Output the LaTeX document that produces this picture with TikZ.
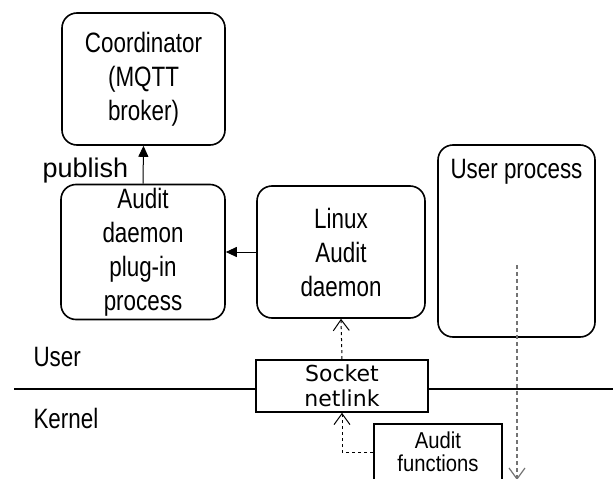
\documentclass[tikz,border=0pt]{standalone}
\usepackage{fontspec}
\setmainfont{Liberation Sans}[FakeStretch=0.8]
\newfontfamily\plainfont{Liberation Sans}
\newfontfamily\narrowfont{Liberation Sans}[FakeStretch=0.88]
\newfontfamily\sockfont{DejaVu Sans}
\usetikzlibrary{arrows.meta}

\begin{document}
\begin{tikzpicture}[x=1pt, y=-1pt,
    procbox/.style={draw, line width=1.6pt, rounded corners=15pt, align=center,
        inner sep=0pt, font=\fontsize{28pt}{34pt}\selectfont},
    kernbox/.style={draw, line width=1.6pt, fill=white, align=center, inner sep=0pt},
    sidelabel/.style={anchor=west, font=\fontsize{28pt}{30pt}\selectfont},
    solidflow/.style={line width=1pt, -{Triangle[length=11pt, width=10pt]}},
    eventflow/.style={line width=1pt, dashed, -{Straight Barb[length=11pt, width=16pt]}}]
    \useasboundingbox (0,0) rectangle (613,479);

    % User / Kernel border
    \draw[line width=1.3pt] (14,389) -- (613,389);

    % The processes
    \node[procbox, minimum width=163pt, minimum height=132pt] (coord) at (143.5,79) {Coordinator\\(MQTT\\broker)};
    \node[procbox, minimum width=164pt, minimum height=135pt] (plugin) at (143,252) {Audit\\daemon\\plug-in\\process};
    \node[procbox, minimum width=168pt, minimum height=132pt] (linux) at (341,252) {Linux\\Audit\\daemon};
    \node[procbox, minimum width=157pt, minimum height=192pt,
        label={[anchor=north, yshift=-12pt, font=\fontsize{28pt}{30pt}\selectfont]north:User process}] (userproc) at (516.5,241) {};

    % The kernel side
    \node[kernbox, minimum width=172pt, minimum height=52pt,
        font=\sockfont\fontsize{22pt}{25pt}\selectfont] (socket) at (342,386) {Socket\\netlink};
    \node[kernbox, minimum width=128pt, minimum height=56pt,
        font=\narrowfont\fontsize{23pt}{23pt}\selectfont] (auditfn) at (438,452) {Audit\\functions};

    % Labels
    \node[anchor=base west, font=\plainfont\fontsize{27pt}{30pt}\selectfont] (publish) at (39,177) {publish};
    \node[sidelabel] (user) at (30,357) {User};
    \node[sidelabel] (kernel) at (30,418) {Kernel};

    % The flows
    \draw[solidflow] (plugin.north) -- (coord.south);
    \draw[solidflow] (linux.west) -- (plugin.east);
    \draw[eventflow] (socket.north) -- (linux.south);
    \draw[eventflow] (auditfn.west) -| (socket.south);
    \coordinate (flowstart) at (517,265);
    \coordinate (flowend) at (517,480);
    \draw[eventflow, black!55, line width=1.2pt, dash pattern=on 4pt off 3pt] (flowstart) -- (flowend);
\end{tikzpicture}
\end{document}
